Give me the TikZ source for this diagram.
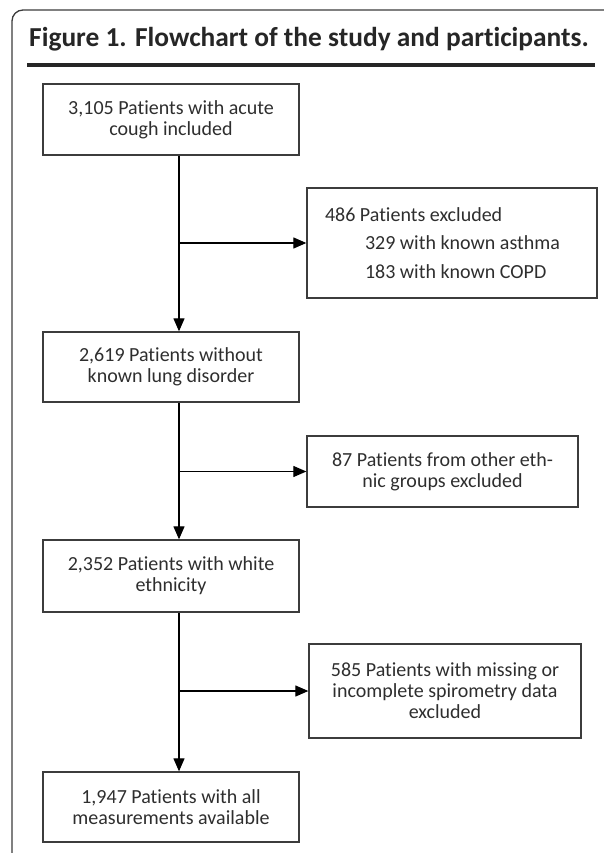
\documentclass[tikz,border=0pt]{standalone}
\usepackage{fontspec}
\setmainfont{Carlito}[RawFeature=-liga]
\usetikzlibrary{arrows.meta}
\definecolor{boxgray}{HTML}{3C3C3C}
\definecolor{txtgray}{HTML}{2E2E2E}
\tikzset{
  stepbox/.style={draw=boxgray, line width=1.3pt, minimum width=256pt, minimum height=71pt,
    align=center, inner sep=0pt, text=txtgray, font=\fontsize{20}{21}\selectfont},
  exclbox/.style={stepbox, minimum width=272pt},
  flow/.style={line width=1.2pt, -{Triangle[length=13pt,width=11pt]}},
}
\begin{document}
\begin{tikzpicture}[x=1pt,y=-1pt]
  \useasboundingbox (0,0) rectangle (604,853);
  \draw[line width=1.3pt, boxgray, rounded corners=11pt] (12,853) -- (12,10) -- (604,10);
  \node[anchor=base west, inner sep=0pt, text=black!85,
    font=\fontsize{27.4}{30}\selectfont\bfseries] (title) at (29,47)
    {Figure 1. Flowchart of the study and participants.};
  \draw[line width=4pt, black!85] (27,65) -- (595,65);

  \node[stepbox] (b1) at (171,119.5) {3,105 Patients with acute\\cough included};
  \node[exclbox, minimum width=290pt, minimum height=110pt, text width=254pt, align=flush left] (e1) at (452,243)
    {486 Patients excluded\\[7.5pt]
     \hspace*{40pt}329 with known asthma\\[7.5pt]
     \hspace*{40pt}183 with known COPD};
  \node[stepbox, minimum height=70pt] (b2) at (171,367) {2,619 Patients without\\known lung disorder};
  \node[exclbox, minimum width=271pt] (e2) at (442.5,471.5) {87 Patients from other eth-\\nic groups excluded};
  \node[stepbox, minimum height=72pt] (b3) at (171,576) {2,352 Patients with white\\ethnicity};
  \node[exclbox, minimum height=94pt] (e3) at (445,691)
    {585 Patients with missing or\\incomplete spirometry data\\excluded};
  \node[stepbox, minimum height=70pt] (b4) at (171,807) {1,947 Patients with all\\measurements available};

  \coordinate (trunk) at (179,0);
  \draw[flow] (b1.south -| trunk) -- (b2.north -| trunk);
  \draw[flow] (b2.south -| trunk) -- (b3.north -| trunk);
  \draw[flow] (b3.south -| trunk) -- (b4.north -| trunk);
  \draw[flow] (e1.west -| trunk) -- (e1.west);
  \draw[flow] (e2.west -| trunk) -- (e2.west);
  \draw[flow] (e3.west -| trunk) -- (e3.west);
\end{tikzpicture}
\end{document}
